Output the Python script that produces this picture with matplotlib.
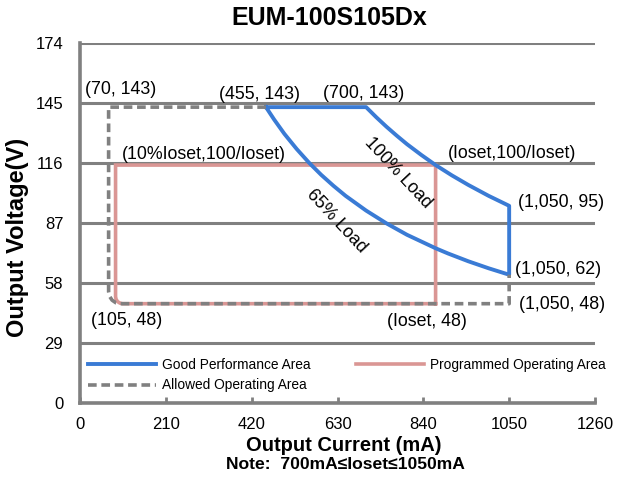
import matplotlib.pyplot as plt

# ---- data (current in mA, voltage in V) ----
x_ticks = [0, 210, 420, 630, 840, 1050, 1260]
y_ticks = [0, 29, 58, 87, 116, 145, 174]

# good performance area: top edge, 100% load curve, right edge, 65% load curve
good_i = [455, 700, 725, 750, 775, 800, 835, 870, 910, 950, 1000, 1050,
          1050, 1000, 950, 900, 870, 800, 750, 700, 650, 620, 590, 561,
          530, 500, 475, 455]
good_v = [143, 143, 138.1, 133.5, 129.2, 125.1, 119.9, 115, 110, 105.4, 100.1, 95.3,
          62, 65.1, 68.5, 72.3, 74.8, 81.3, 86.8, 93, 100.1, 105, 110.3, 116,
          122.8, 130.1, 137, 143]

# programmed operating area (Iset ~ 870 mA), rounded lower-left corner
prog_i = [870, 870, 87, 87, 88.3, 92, 97.5, 104, 870]
prog_v = [48, 115, 115, 51.4, 50.1, 49.0, 48.3, 48, 48]

# allowed operating area
allow_i = [455, 70, 70, 72.2, 78.5, 88, 99, 1050, 1050]
allow_v = [143, 143, 53.8, 51.6, 49.7, 48.4, 48, 48, 62]

# point labels: (text, x, y, horizontal alignment)
point_labels = [
    ("(70, 143)", 100, 151.3, "center"),
    ("(455, 143)", 438, 148.9, "center"),
    ("(700, 143)", 695, 149.7, "center"),
    ("(10%Ioset,100/Ioset)", 302, 120.3, "center"),
    ("(Ioset,100/Ioset)", 1057, 120.8, "center"),
    ("(1,050, 95)", 1071, 96.7, "left"),
    ("(1,050, 62)", 1064, 64.3, "left"),
    ("(1,050, 48)", 1074, 47.4, "left"),
    ("(Ioset, 48)", 848, 39.3, "center"),
    ("(105, 48)", 114, 40.1, "center"),
]
load_labels = [("100% Load", 778, 111.2), ("65% Load", 628, 88.1)]

BLUE = "#3a7bd5"
PINK = "#da9694"
GRAY = "#808080"

plt.rcParams["font.family"] = ["Liberation Sans", "DejaVu Sans"]

fig = plt.figure(figsize=(6.22, 4.8), dpi=100)
ax = fig.add_axes([80 / 622, 77 / 480, 515 / 622, 360 / 480])

# grid lines
for yv in y_ticks[1:]:
    ax.axhline(yv, color=GRAY, lw=2.2, zorder=1)

ax.plot(prog_i, prog_v, color=PINK, lw=2.6, zorder=2,
        solid_joinstyle="miter", label="Programmed Operating Area")
ax.plot(good_i, good_v, color=BLUE, lw=2.8, zorder=3,
        solid_joinstyle="round", label="Good Performance Area")
ax.plot(allow_i, allow_v, color=GRAY, lw=2.6, zorder=4,
        dashes=(2.4, 1.3), label="Allowed Operating Area")

for txt, xv, yv, ha in point_labels:
    ax.text(xv, yv, txt, ha=ha, va="center", fontsize=12.8, zorder=5)
for txt, xv, yv in load_labels:
    ax.text(xv, yv, txt, ha="center", va="center", fontsize=12.8,
            rotation=-47, rotation_mode="anchor", zorder=5)

ax.set_xlim(0, 1260)
ax.set_ylim(0, 174)
ax.set_xticks(x_ticks)
ax.set_yticks(y_ticks)
ax.tick_params(axis="x", direction="in", length=4, width=2, color=GRAY,
               labelsize=12, pad=10)
ax.tick_params(axis="y", length=0, labelsize=12, pad=12)

for side in ["top", "right"]:
    ax.spines[side].set_visible(False)
for side in ["left", "bottom"]:
    ax.spines[side].set_color(GRAY)
    ax.spines[side].set_linewidth(2.6)

ax.set_ylabel("Output Voltage(V)", fontsize=17, fontweight="bold")
ax.yaxis.label.set_va("center")
ax.yaxis.set_label_coords(-0.122, 0.46)
ax.set_xlabel("Output Current (mA)", fontsize=14.5, fontweight="bold")
ax.xaxis.label.set_va("center")
ax.xaxis.set_label_coords(0.513, -0.117)
ax.text(0.515, -0.172, "Note:  700mA\u2264Ioset\u22641050mA", transform=ax.transAxes,
        ha="center", va="center", fontsize=12.6, fontweight="bold")

fig.text(0.529, 0.9625, "EUM-100S105Dx", ha="center", va="center",
         fontsize=18, fontweight="bold")

h, l = ax.get_legend_handles_labels()
order = [1, 2, 0]
ax.legend([h[i] for i in order], [l[i] for i in order], ncol=2,
          loc="upper left", bbox_to_anchor=(8 / 515, 45 / 360),
          frameon=False, borderpad=0, borderaxespad=0,
          handlelength=4.95, handletextpad=0.45, columnspacing=3.3,
          labelspacing=0.47, prop={"size": 9.9})

fig.savefig("out.png", dpi=100)
